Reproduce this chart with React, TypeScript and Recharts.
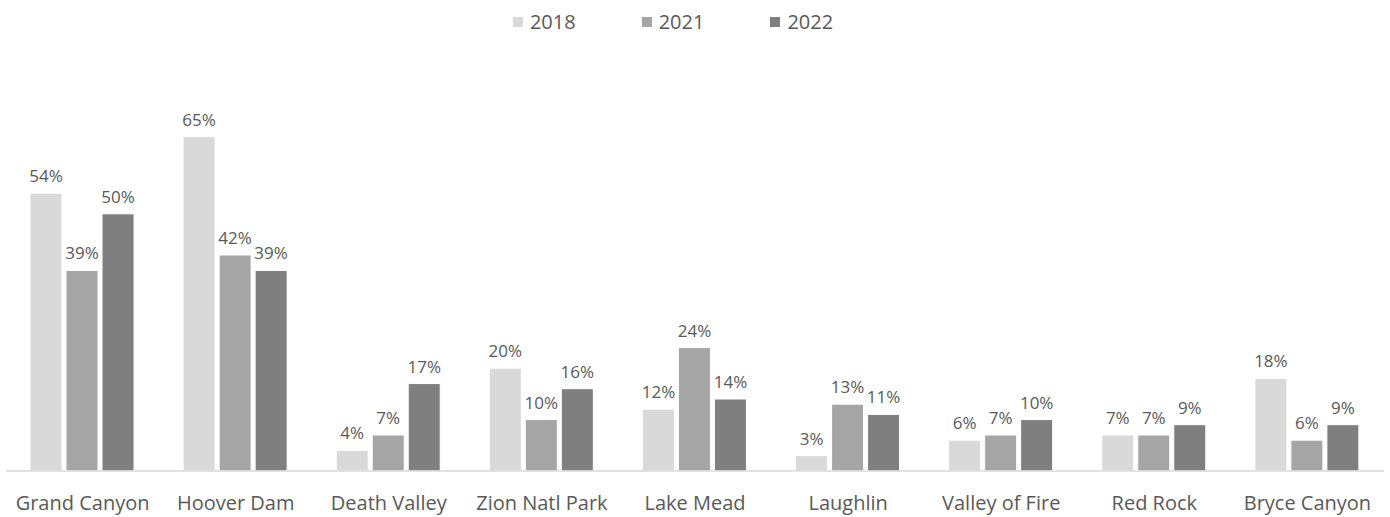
import { BarChart, Bar, XAxis, YAxis, LabelList } from "recharts";

const categories = [
  "Grand Canyon",
  "Hoover Dam",
  "Death Valley",
  "Zion Natl Park",
  "Lake Mead",
  "Laughlin",
  "Valley of Fire",
  "Red Rock",
  "Bryce Canyon",
];
const y2018 = [54, 65, 4, 20, 12, 3, 6, 7, 18];
const y2021 = [39, 42, 7, 10, 24, 13, 7, 7, 6];
const y2022 = [50, 39, 17, 16, 14, 11, 10, 9, 9];

const SERIES = [
  { key: "2018", color: "#d9d9d9" },
  { key: "2021", color: "#a5a5a5" },
  { key: "2022", color: "#7f7f7f" },
];

const data = categories.map((name, i) => ({
  name,
  "2018": y2018[i],
  "2021": y2021[i],
  "2022": y2022[i],
}));

const FONT = "'Open Sans', sans-serif";

function TopLegend() {
  return (
    <div
      style={{
        position: "absolute",
        top: 8,
        left: 0,
        width: 1346,
        display: "flex",
        justifyContent: "center",
        gap: 66,
        fontFamily: FONT,
        fontSize: 20,
        color: "#595959",
      }}
    >
      {SERIES.map((s) => (
        <div key={s.key} style={{ display: "flex", alignItems: "center" }}>
          <span
            style={{ width: 10, height: 10, background: s.color, marginRight: 7, display: "inline-block" }}
          />
          {s.key}
        </div>
      ))}
    </div>
  );
}

export default function App() {
  return (
    <div style={{ position: "absolute", left: 0, top: 0, width: 1390, height: 517, background: "#fff" }}>
      <TopLegend />
      <BarChart
        width={1390}
        height={517}
        data={data}
        margin={{ top: 111, right: 6, bottom: 0, left: 6 }}
        barGap={4}
        barCategoryGap={24}
      >
        <XAxis
          dataKey="name"
          axisLine={{ stroke: "#d9d9d9", strokeWidth: 1.5 }}
          tickLine={false}
          height={46}
          interval={0}
          tick={{ fill: "#595959", fontSize: 20, fontFamily: FONT, dy: 17 }}
        />
        <YAxis hide domain={[0, 70]} />
        {SERIES.map((s) => (
          <Bar key={s.key} dataKey={s.key} fill={s.color} stroke="#fff" strokeWidth={1} isAnimationActive={false}>
            <LabelList
              dataKey={s.key}
              position="top"
              offset={11}
              formatter={(v: number) => `${v}%`}
              style={{ fill: "#595959", fontSize: 17, fontFamily: FONT }}
            />
          </Bar>
        ))}
      </BarChart>
    </div>
  );
}
